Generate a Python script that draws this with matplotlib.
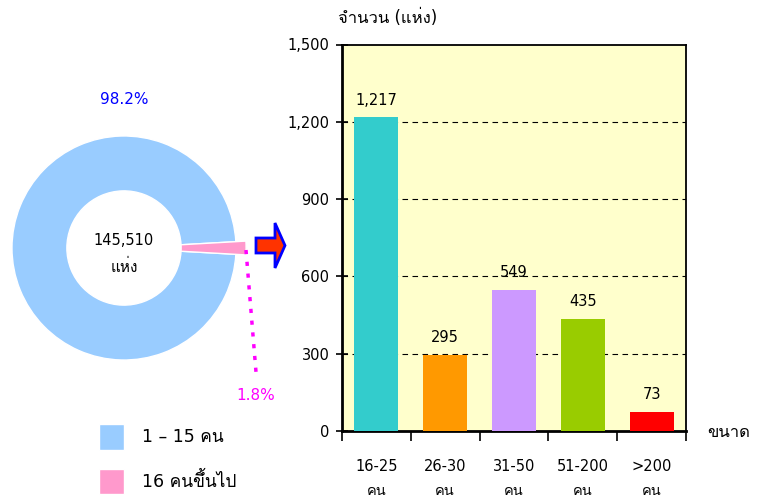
import matplotlib
matplotlib.use('Agg')
import matplotlib.pyplot as plt
from matplotlib import font_manager as fm
from matplotlib.ft2font import FT2Font
from matplotlib.lines import Line2D
from matplotlib.patches import Polygon

# data
pie_labels = ['1 – 15 คน', '16 คนขึ้นไป']
pie_values = [98.2, 1.8]
pie_colors = ['#99CCFF', '#FF99CC']
pie_total = '145,510'

bar_cats = ['16-25\nคน', '26-30\nคน', '31-50\nคน', '51-200\nคน', '>200\nคน']
bar_values = [1217, 295, 549, 435, 73]
bar_colors = ['#33CCCC', '#FF9900', '#CC99FF', '#99CC00', '#FF0000']
y_ticks = [0, 300, 600, 900, 1200, 1500]


def thai_family():
    # find any installed font that has Thai glyphs
    for f in fm.fontManager.ttflist:
        try:
            if 0x0E01 in FT2Font(f.fname).get_charmap():
                return f.name
        except Exception:
            pass
    return 'DejaVu Sans'


plt.rcParams['font.family'] = ['DejaVu Sans', thai_family()]
plt.rcParams['font.size'] = 10.5

W, H = 766, 501
fig = plt.figure(figsize=(W / 100, H / 100), dpi=100)


def fx(px):
    return px / W


def fy(py):
    return 1 - py / H


# donut
ax1 = fig.add_axes([0, fy(372), fx(248), 248 / H])
wedges, _ = ax1.pie(pie_values, colors=pie_colors, startangle=pie_values[1] * 1.8,
                    radius=1.0, wedgeprops=dict(width=0.49, edgecolor='white', linewidth=1))
wedges[1].set_radius(1.09)
wedges[1].set_width(0.58)
ax1.set_xlim(-1.107, 1.107)
ax1.set_ylim(-1.107, 1.107)
ax1.set_aspect('equal')
ax1.axis('off')
ax1.text(0, 0.07, pie_total, ha='center', va='center', fontsize=10.5)
ax1.text(0, -0.17, 'แห่ง', ha='center', va='center', fontsize=11)

fig.text(fx(124), fy(100), '%.1f%%' % pie_values[0], color='#0000FF', ha='center', va='center', fontsize=11)
fig.text(fx(256), fy(395), '%.1f%%' % pie_values[1], color='#FF00FF', ha='center', va='center', fontsize=11)
fig.add_artist(Line2D([fx(246), fx(256)], [fy(250), fy(372)], transform=fig.transFigure,
                      color='#FF00FF', linestyle=(0, (1.2, 2.2)), linewidth=2.5))

fig.legend(wedges, pie_labels, loc='upper left', bbox_to_anchor=(fx(99), fy(424)),
           frameon=False, fontsize=12.5, handlelength=1.45, handleheight=1.9,
           handletextpad=1.0, labelspacing=1.1, borderpad=0, borderaxespad=0)

# block arrow
arrow = [(256, 238), (275, 238), (275, 223), (285, 245.5), (275, 268), (275, 253), (256, 253)]
fig.add_artist(Polygon([(fx(x), fy(y)) for x, y in arrow], closed=True, transform=fig.transFigure,
                       facecolor='#FF3300', edgecolor='#0000FF', linewidth=2))

# bar chart
ax2 = fig.add_axes([fx(342), fy(431), fx(686) - fx(342), (431 - 44.5) / H])
ax2.set_facecolor('#FFFFCC')
x = list(range(len(bar_values)))
bars = ax2.bar(x, bar_values, width=0.64, color=bar_colors, zorder=3)
for xi, v in zip(x, bar_values):
    ax2.annotate('{:,}'.format(v), (xi, v), xytext=(0, 7), textcoords='offset points',
                 ha='center', va='bottom', fontsize=10.5)
for t in y_ticks[1:-1]:
    ax2.axhline(t, color='black', linestyle=(0, (5, 4)), linewidth=0.8, zorder=1)

ax2.set_xlim(-0.5, len(bar_values) - 0.5)
ax2.set_ylim(0, 1500)
ax2.set_yticks(y_ticks)
ax2.set_yticklabels(['{:,}'.format(t) for t in y_ticks])
ax2.tick_params(axis='y', direction='inout', length=8, width=1.2, pad=5, labelsize=10.5)
ax2.set_xticks([i - 0.5 for i in range(len(bar_values) + 1)])
ax2.set_xticklabels([])
ax2.tick_params(axis='x', which='major', direction='out', length=7, width=1.2)
ax2.set_xticks(x, minor=True)
ax2.set_xticklabels(bar_cats, minor=True, fontsize=10.5, linespacing=1.75)
ax2.tick_params(axis='x', which='minor', length=0, pad=20)
for s in ['left', 'bottom']:
    ax2.spines[s].set_linewidth(2)
for s in ['top', 'right']:
    ax2.spines[s].set_linewidth(1.3)

fig.text(fx(338), fy(18), 'จำนวน (แห่ง)', ha='left', va='center', fontsize=12)
fig.text(fx(729), fy(432), 'ขนาด', ha='center', va='center', fontsize=12)

fig.savefig('out.png', dpi=100)
